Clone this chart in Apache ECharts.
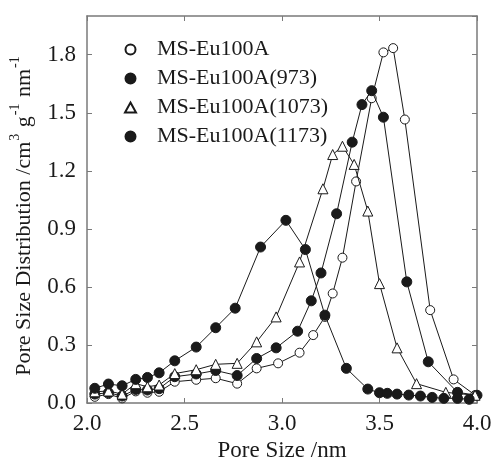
<!DOCTYPE html>
<html>
<head>
<meta charset="utf-8">
<script src="https://cdn.jsdelivr.net/npm/echarts@6/dist/echarts.min.js"></script>
<style>
  html, body { margin: 0; padding: 0; background: #fff; }
  #chart { width: 494px; height: 457px; }
</style>
</head>
<body>
<div id="chart"></div>
<script>
// Pore size distributions of MS-Eu100A and its calcined samples
const seriesNames = ['MS-Eu100A', 'MS-Eu100A(973)', 'MS-Eu100A(1073)', 'MS-Eu100A(1173)'];

const xRaw = [2.04, 2.11, 2.18, 2.25, 2.31, 2.37, 2.45, 2.56, 2.66, 2.77, 2.87, 2.98, 3.09, 3.16, 3.22, 3.26, 3.31, 3.38, 3.46, 3.52, 3.57, 3.63, 3.76, 3.88, 3.99];
const yRaw = [0.032, 0.046, 0.024, 0.060, 0.053, 0.058, 0.110, 0.120, 0.128, 0.100, 0.179, 0.205, 0.260, 0.351, 0.445, 0.566, 0.751, 1.145, 1.575, 1.812, 1.834, 1.465, 0.480, 0.122, 0.041];

const x973 = [2.04, 2.11, 2.18, 2.25, 2.31, 2.37, 2.45, 2.56, 2.66, 2.77, 2.87, 2.97, 3.08, 3.15, 3.20, 3.28, 3.36, 3.41, 3.46, 3.52, 3.64, 3.75, 3.90, 4.00];
const y973 = [0.046, 0.053, 0.036, 0.070, 0.067, 0.074, 0.136, 0.150, 0.168, 0.142, 0.230, 0.285, 0.371, 0.528, 0.672, 0.978, 1.348, 1.542, 1.614, 1.477, 0.626, 0.213, 0.055, 0.040];

const x1073 = [2.04, 2.11, 2.18, 2.25, 2.31, 2.37, 2.45, 2.56, 2.66, 2.77, 2.87, 2.97, 3.09, 3.21, 3.26, 3.31, 3.37, 3.44, 3.50, 3.59, 3.69, 3.84, 3.99];
const y1073 = [0.058, 0.062, 0.046, 0.100, 0.084, 0.093, 0.152, 0.172, 0.200, 0.205, 0.316, 0.445, 0.729, 1.107, 1.284, 1.327, 1.233, 0.992, 0.617, 0.285, 0.100, 0.055, 0.040];

const x1173 = [2.04, 2.11, 2.18, 2.25, 2.31, 2.37, 2.45, 2.56, 2.66, 2.76, 2.89, 3.02, 3.12, 3.22, 3.33, 3.44, 3.50, 3.54, 3.59, 3.65, 3.71, 3.77, 3.83, 3.90, 3.96];
const y1173 = [0.076, 0.098, 0.089, 0.122, 0.132, 0.156, 0.218, 0.289, 0.389, 0.490, 0.806, 0.944, 0.793, 0.454, 0.179, 0.072, 0.053, 0.050, 0.046, 0.041, 0.036, 0.029, 0.024, 0.024, 0.019];

const xTicks = [2.0, 2.5, 3.0, 3.5, 4.0];
const yTicks = [0.0, 0.3, 0.6, 0.9, 1.2, 1.5, 1.8];

const pairs = (xs, ys) => xs.map((x, i) => [x, ys[i]]);

const FONT = '"Liberation Serif", "Times New Roman", serif';
const AXIS_GRAY = '#7a7a7a';
const INK = '#1a1a1a';

const markerStyles = [
  { symbol: 'circle', size: 9, itemStyle: { color: '#fff', borderColor: INK, borderWidth: 1 } },
  { symbol: 'circle', size: 10, itemStyle: { color: INK, borderColor: INK, borderWidth: 1 } },
  { symbol: 'triangle', size: 10, itemStyle: { color: '#fff', borderColor: INK, borderWidth: 1 } },
  { symbol: 'circle', size: 10, itemStyle: { color: INK, borderColor: INK, borderWidth: 1 } }
];

const dataSets = [pairs(xRaw, yRaw), pairs(x973, y973), pairs(x1073, y1073), pairs(x1173, y1173)];

const series = seriesNames.map((name, i) => ({
  name,
  type: 'line',
  data: dataSets[i],
  symbol: markerStyles[i].symbol,
  symbolSize: markerStyles[i].size,
  showAllSymbol: true,
  lineStyle: { color: INK, width: 1 },
  itemStyle: markerStyles[i].itemStyle,
  z: 2 + i,
  animation: false
}));

const baseAxis = {
  axisLine: { show: true, onZero: false, lineStyle: { color: AXIS_GRAY, width: 1.5 } },
  axisTick: { show: true, inside: true, length: 5, lineStyle: { color: AXIS_GRAY, width: 1 } },
  splitLine: { show: false }
};

const chart = echarts.init(document.getElementById('chart'), null, { renderer: 'canvas' });
chart.setOption({
  animation: false,
  backgroundColor: '#fff',
  grid: { left: 87, right: 17, top: 16, bottom: 54, containLabel: false, outerBoundsMode: 'none' },
  legend: {
    orient: 'vertical',
    left: 119,
    top: 30,
    itemWidth: 11,
    itemHeight: 10,
    itemGap: 0,
    data: seriesNames.map((n, i) => ({ name: n, icon: markerStyles[i].symbol })),
    textStyle: { fontFamily: FONT, fontSize: 22, color: INK, lineHeight: 29, padding: [0, 0, 0, 16] }
  },
  xAxis: [
    Object.assign({}, baseAxis, {
      type: 'value', min: xTicks[0], max: xTicks[xTicks.length - 1], interval: 0.5,
      name: 'Pore Size /nm', nameLocation: 'middle', nameGap: 31,
      nameTextStyle: { fontFamily: FONT, fontSize: 23, color: INK },
      axisLabel: { fontFamily: FONT, fontSize: 23, color: INK, margin: 9, formatter: v => v.toFixed(1) }
    }),
    Object.assign({}, baseAxis, {
      type: 'value', position: 'top', min: xTicks[0], max: xTicks[xTicks.length - 1], interval: 0.5,
      axisLabel: { show: false }
    })
  ],
  yAxis: [
    Object.assign({}, baseAxis, {
      type: 'value', min: 0, max: 2.0, interval: 0.3,
      name: '{b|Pore Size Distribution /cm}{s|3}{b| g}{s|-1}{b| nm}{s|-1}',
      nameLocation: 'middle', nameGap: 52, nameRotate: 90,
      nameTextStyle: {
        fontFamily: FONT, fontSize: 22, color: INK, padding: [0, 12, 0, 0],
        rich: {
          b: { fontFamily: FONT, fontSize: 22, color: INK, lineHeight: 27, verticalAlign: 'bottom' },
          s: { fontFamily: FONT, fontSize: 14, color: INK, lineHeight: 27, verticalAlign: 'top', padding: [0, 1, 10, 1] }
        }
      },
      axisLabel: {
        fontFamily: FONT, fontSize: 23, color: INK, margin: 11, showMaxLabel: false,
        formatter: v => (yTicks.some(t => Math.abs(t - v) < 1e-6) ? v.toFixed(1) : '')
      }
    }),
    Object.assign({}, baseAxis, {
      type: 'value', position: 'right', min: 0, max: 2.0, interval: 0.3,
      axisLabel: { show: false }
    })
  ],
  series
});
</script>
</body>
</html>
